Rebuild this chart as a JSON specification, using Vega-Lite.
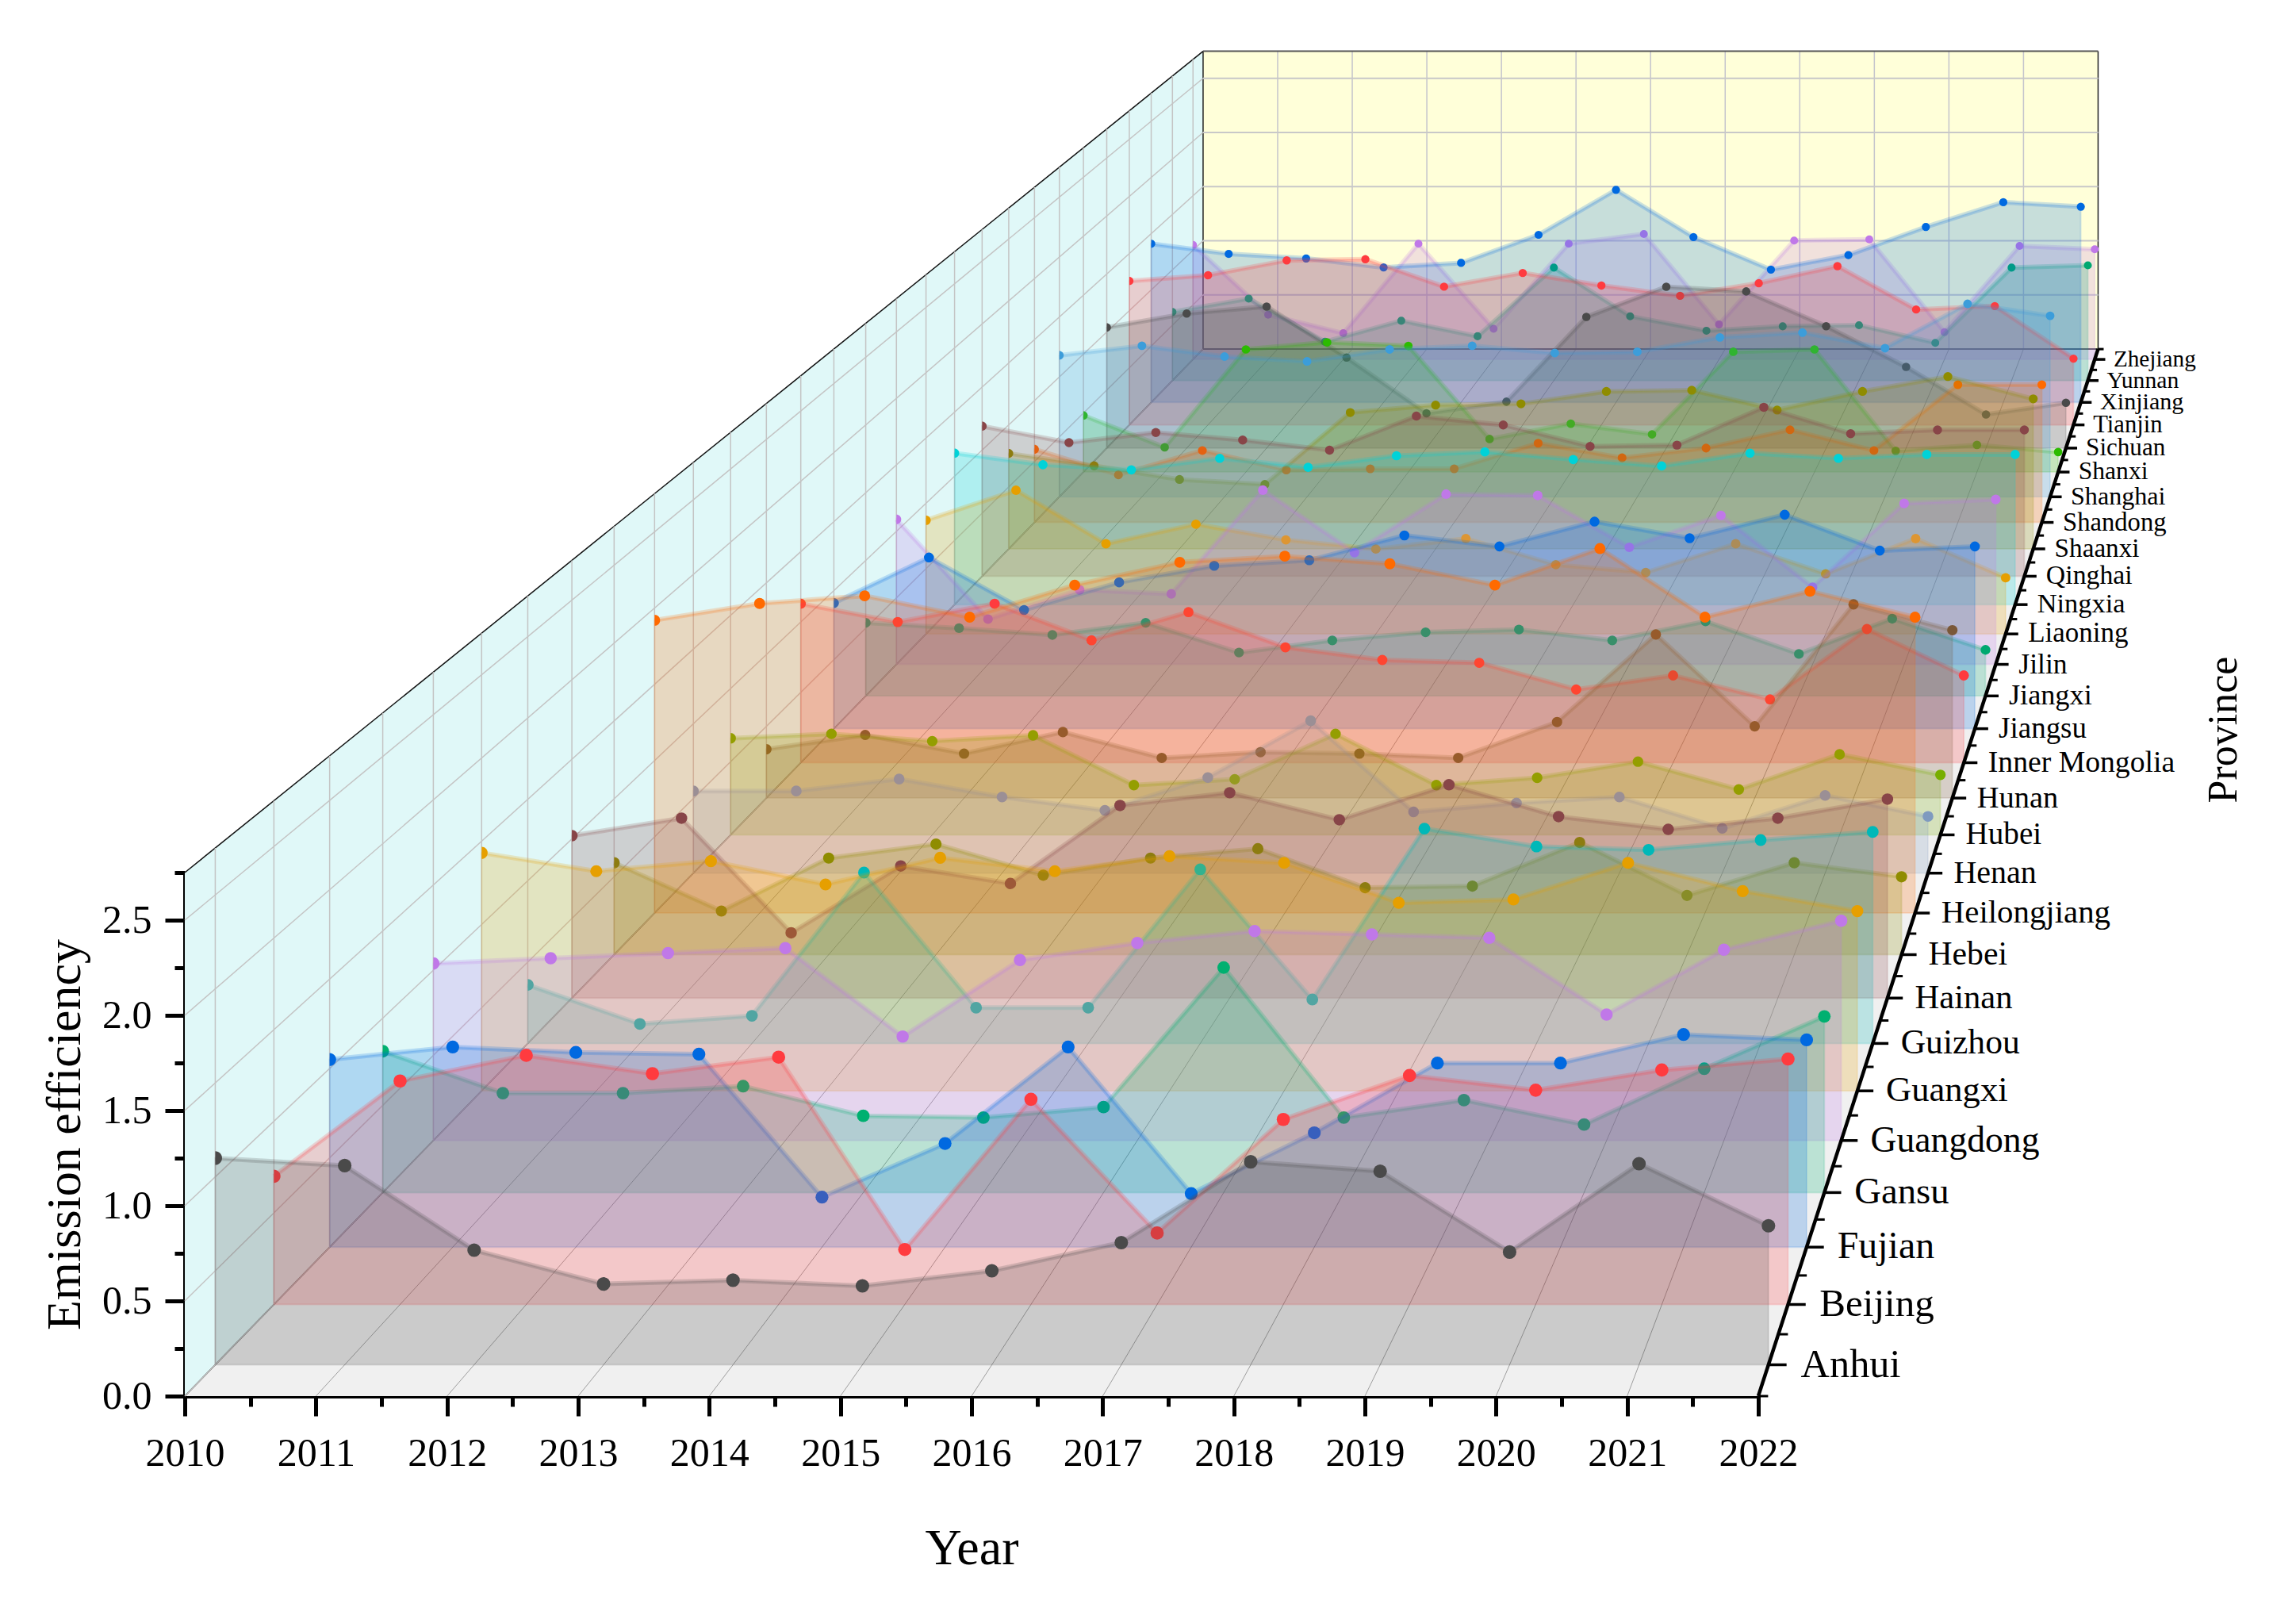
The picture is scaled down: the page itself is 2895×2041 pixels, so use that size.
{"$schema":"https://vega.github.io/schema/vega-lite/v6.json","width":1984,"height":660,"autosize":{"type":"none"},"padding":{"left":233,"top":1100,"right":678,"bottom":281},"background":"#ffffff","config":{"view":{"stroke":null},"text":{"font":"Liberation Serif"},"axis":{"labelFont":"Liberation Serif","titleFont":"Liberation Serif","labelFontSize":50,"labelColor":"#000","titleColor":"#000","titleFontWeight":"normal","domainColor":"#000","domainWidth":5,"tickColor":"#000","tickWidth":5,"grid":false,"labelOverlap":false,"labelFlush":false,"labelBound":false,"zindex":1}},
"datasets":{
"depthEnds":[{"d":0},{"d":1}],
"yearTicks":[{"year":2010},{"year":2011},{"year":2012},{"year":2013},{"year":2014},{"year":2015},{"year":2016},{"year":2017},{"year":2018},{"year":2019},{"year":2020},{"year":2021},{"year":2022}],
"valueTicks":[{"value":0},{"value":0.5},{"value":1},{"value":1.5},{"value":2},{"value":2.5},{"value":2.75}],
"provinces":[{"province":"Anhui","k":0},{"province":"Beijing","k":1},{"province":"Fujian","k":2},{"province":"Gansu","k":3},{"province":"Guangdong","k":4},{"province":"Guangxi","k":5},{"province":"Guizhou","k":6},{"province":"Hainan","k":7},{"province":"Hebei","k":8},{"province":"Heilongjiang","k":9},{"province":"Henan","k":10},{"province":"Hubei","k":11},{"province":"Hunan","k":12},{"province":"Inner Mongolia","k":13},{"province":"Jiangsu","k":14},{"province":"Jiangxi","k":15},{"province":"Jilin","k":16},{"province":"Liaoning","k":17},{"province":"Ningxia","k":18},{"province":"Qinghai","k":19},{"province":"Shaanxi","k":20},{"province":"Shandong","k":21},{"province":"Shanghai","k":22},{"province":"Shanxi","k":23},{"province":"Sichuan","k":24},{"province":"Tianjin","k":25},{"province":"Xinjiang","k":26},{"province":"Yunnan","k":27},{"province":"Zhejiang","k":28}],
"rows":[
{"province":"Anhui","k":0,"year":2010,"value":1.10},{"province":"Anhui","k":0,"year":2011,"value":1.06},{"province":"Anhui","k":0,"year":2012,"value":0.61},{"province":"Anhui","k":0,"year":2013,"value":0.43},{"province":"Anhui","k":0,"year":2014,"value":0.45},{"province":"Anhui","k":0,"year":2015,"value":0.42},{"province":"Anhui","k":0,"year":2016,"value":0.50},{"province":"Anhui","k":0,"year":2017,"value":0.65},{"province":"Anhui","k":0,"year":2018,"value":1.08},{"province":"Anhui","k":0,"year":2019,"value":1.03},{"province":"Anhui","k":0,"year":2020,"value":0.60},{"province":"Anhui","k":0,"year":2021,"value":1.07},{"province":"Anhui","k":0,"year":2022,"value":0.74},
{"province":"Beijing","k":1,"year":2010,"value":0.70},{"province":"Beijing","k":1,"year":2011,"value":1.22},{"province":"Beijing","k":1,"year":2012,"value":1.36},{"province":"Beijing","k":1,"year":2013,"value":1.26},{"province":"Beijing","k":1,"year":2014,"value":1.35},{"province":"Beijing","k":1,"year":2015,"value":0.30},{"province":"Beijing","k":1,"year":2016,"value":1.12},{"province":"Beijing","k":1,"year":2017,"value":0.39},{"province":"Beijing","k":1,"year":2018,"value":1.01},{"province":"Beijing","k":1,"year":2019,"value":1.25},{"province":"Beijing","k":1,"year":2020,"value":1.17},{"province":"Beijing","k":1,"year":2021,"value":1.28},{"province":"Beijing","k":1,"year":2022,"value":1.34},
{"province":"Fujian","k":2,"year":2010,"value":1.05},{"province":"Fujian","k":2,"year":2011,"value":1.12},{"province":"Fujian","k":2,"year":2012,"value":1.09},{"province":"Fujian","k":2,"year":2013,"value":1.08},{"province":"Fujian","k":2,"year":2014,"value":0.28},{"province":"Fujian","k":2,"year":2015,"value":0.58},{"province":"Fujian","k":2,"year":2016,"value":1.12},{"province":"Fujian","k":2,"year":2017,"value":0.30},{"province":"Fujian","k":2,"year":2018,"value":0.64},{"province":"Fujian","k":2,"year":2019,"value":1.03},{"province":"Fujian","k":2,"year":2020,"value":1.03},{"province":"Fujian","k":2,"year":2021,"value":1.19},{"province":"Fujian","k":2,"year":2022,"value":1.16},
{"province":"Gansu","k":3,"year":2010,"value":0.81},{"province":"Gansu","k":3,"year":2011,"value":0.57},{"province":"Gansu","k":3,"year":2012,"value":0.57},{"province":"Gansu","k":3,"year":2013,"value":0.61},{"province":"Gansu","k":3,"year":2014,"value":0.44},{"province":"Gansu","k":3,"year":2015,"value":0.43},{"province":"Gansu","k":3,"year":2016,"value":0.49},{"province":"Gansu","k":3,"year":2017,"value":1.29},{"province":"Gansu","k":3,"year":2018,"value":0.43},{"province":"Gansu","k":3,"year":2019,"value":0.53},{"province":"Gansu","k":3,"year":2020,"value":0.39},{"province":"Gansu","k":3,"year":2021,"value":0.71},{"province":"Gansu","k":3,"year":2022,"value":1.01},
{"province":"Guangdong","k":4,"year":2010,"value":1.04},{"province":"Guangdong","k":4,"year":2011,"value":1.07},{"province":"Guangdong","k":4,"year":2012,"value":1.10},{"province":"Guangdong","k":4,"year":2013,"value":1.13},{"province":"Guangdong","k":4,"year":2014,"value":0.61},{"province":"Guangdong","k":4,"year":2015,"value":1.06},{"province":"Guangdong","k":4,"year":2016,"value":1.16},{"province":"Guangdong","k":4,"year":2017,"value":1.23},{"province":"Guangdong","k":4,"year":2018,"value":1.21},{"province":"Guangdong","k":4,"year":2019,"value":1.19},{"province":"Guangdong","k":4,"year":2020,"value":0.74},{"province":"Guangdong","k":4,"year":2021,"value":1.12},{"province":"Guangdong","k":4,"year":2022,"value":1.29},
{"province":"Guangxi","k":5,"year":2010,"value":1.43},{"province":"Guangxi","k":5,"year":2011,"value":1.32},{"province":"Guangxi","k":5,"year":2012,"value":1.38},{"province":"Guangxi","k":5,"year":2013,"value":1.24},{"province":"Guangxi","k":5,"year":2014,"value":1.40},{"province":"Guangxi","k":5,"year":2015,"value":1.32},{"province":"Guangxi","k":5,"year":2016,"value":1.41},{"province":"Guangxi","k":5,"year":2017,"value":1.37},{"province":"Guangxi","k":5,"year":2018,"value":1.13},{"province":"Guangxi","k":5,"year":2019,"value":1.15},{"province":"Guangxi","k":5,"year":2020,"value":1.37},{"province":"Guangxi","k":5,"year":2021,"value":1.20},{"province":"Guangxi","k":5,"year":2022,"value":1.08},
{"province":"Guizhou","k":6,"year":2010,"value":0.36},{"province":"Guizhou","k":6,"year":2011,"value":0.12},{"province":"Guizhou","k":6,"year":2012,"value":0.17},{"province":"Guizhou","k":6,"year":2013,"value":1.05},{"province":"Guizhou","k":6,"year":2014,"value":0.22},{"province":"Guizhou","k":6,"year":2015,"value":0.22},{"province":"Guizhou","k":6,"year":2016,"value":1.07},{"province":"Guizhou","k":6,"year":2017,"value":0.27},{"province":"Guizhou","k":6,"year":2018,"value":1.32},{"province":"Guizhou","k":6,"year":2019,"value":1.21},{"province":"Guizhou","k":6,"year":2020,"value":1.19},{"province":"Guizhou","k":6,"year":2021,"value":1.25},{"province":"Guizhou","k":6,"year":2022,"value":1.30},
{"province":"Hainan","k":7,"year":2010,"value":1.02},{"province":"Hainan","k":7,"year":2011,"value":1.13},{"province":"Hainan","k":7,"year":2012,"value":0.41},{"province":"Hainan","k":7,"year":2013,"value":0.83},{"province":"Hainan","k":7,"year":2014,"value":0.72},{"province":"Hainan","k":7,"year":2015,"value":1.21},{"province":"Hainan","k":7,"year":2016,"value":1.29},{"province":"Hainan","k":7,"year":2017,"value":1.12},{"province":"Hainan","k":7,"year":2018,"value":1.34},{"province":"Hainan","k":7,"year":2019,"value":1.14},{"province":"Hainan","k":7,"year":2020,"value":1.06},{"province":"Hainan","k":7,"year":2021,"value":1.13},{"province":"Hainan","k":7,"year":2022,"value":1.25},
{"province":"Hebei","k":8,"year":2010,"value":0.59},{"province":"Hebei","k":8,"year":2011,"value":0.28},{"province":"Hebei","k":8,"year":2012,"value":0.62},{"province":"Hebei","k":8,"year":2013,"value":0.71},{"province":"Hebei","k":8,"year":2014,"value":0.51},{"province":"Hebei","k":8,"year":2015,"value":0.62},{"province":"Hebei","k":8,"year":2016,"value":0.68},{"province":"Hebei","k":8,"year":2017,"value":0.43},{"province":"Hebei","k":8,"year":2018,"value":0.44},{"province":"Hebei","k":8,"year":2019,"value":0.72},{"province":"Hebei","k":8,"year":2020,"value":0.38},{"province":"Hebei","k":8,"year":2021,"value":0.59},{"province":"Hebei","k":8,"year":2022,"value":0.50},
{"province":"Heilongjiang","k":9,"year":2010,"value":1.92},{"province":"Heilongjiang","k":9,"year":2011,"value":2.03},{"province":"Heilongjiang","k":9,"year":2012,"value":2.08},{"province":"Heilongjiang","k":9,"year":2013,"value":1.94},{"province":"Heilongjiang","k":9,"year":2014,"value":2.15},{"province":"Heilongjiang","k":9,"year":2015,"value":2.30},{"province":"Heilongjiang","k":9,"year":2016,"value":2.34},{"province":"Heilongjiang","k":9,"year":2017,"value":2.29},{"province":"Heilongjiang","k":9,"year":2018,"value":2.15},{"province":"Heilongjiang","k":9,"year":2019,"value":2.39},{"province":"Heilongjiang","k":9,"year":2020,"value":1.94},{"province":"Heilongjiang","k":9,"year":2021,"value":2.11},{"province":"Heilongjiang","k":9,"year":2022,"value":1.94},
{"province":"Henan","k":10,"year":2010,"value":0.55},{"province":"Henan","k":10,"year":2011,"value":0.55},{"province":"Henan","k":10,"year":2012,"value":0.63},{"province":"Henan","k":10,"year":2013,"value":0.51},{"province":"Henan","k":10,"year":2014,"value":0.42},{"province":"Henan","k":10,"year":2015,"value":0.64},{"province":"Henan","k":10,"year":2016,"value":1.02},{"province":"Henan","k":10,"year":2017,"value":0.41},{"province":"Henan","k":10,"year":2018,"value":0.47},{"province":"Henan","k":10,"year":2019,"value":0.51},{"province":"Henan","k":10,"year":2020,"value":0.30},{"province":"Henan","k":10,"year":2021,"value":0.52},{"province":"Henan","k":10,"year":2022,"value":0.38},
{"province":"Hubei","k":11,"year":2010,"value":0.66},{"province":"Hubei","k":11,"year":2011,"value":0.69},{"province":"Hubei","k":11,"year":2012,"value":0.64},{"province":"Hubei","k":11,"year":2013,"value":0.68},{"province":"Hubei","k":11,"year":2014,"value":0.34},{"province":"Hubei","k":11,"year":2015,"value":0.38},{"province":"Hubei","k":11,"year":2016,"value":0.69},{"province":"Hubei","k":11,"year":2017,"value":0.34},{"province":"Hubei","k":11,"year":2018,"value":0.39},{"province":"Hubei","k":11,"year":2019,"value":0.50},{"province":"Hubei","k":11,"year":2020,"value":0.31},{"province":"Hubei","k":11,"year":2021,"value":0.55},{"province":"Hubei","k":11,"year":2022,"value":0.41},
{"province":"Hunan","k":12,"year":2010,"value":0.34},{"province":"Hunan","k":12,"year":2011,"value":0.44},{"province":"Hunan","k":12,"year":2012,"value":0.31},{"province":"Hunan","k":12,"year":2013,"value":0.46},{"province":"Hunan","k":12,"year":2014,"value":0.28},{"province":"Hunan","k":12,"year":2015,"value":0.32},{"province":"Hunan","k":12,"year":2016,"value":0.31},{"province":"Hunan","k":12,"year":2017,"value":0.28},{"province":"Hunan","k":12,"year":2018,"value":0.53},{"province":"Hunan","k":12,"year":2019,"value":1.14},{"province":"Hunan","k":12,"year":2020,"value":0.50},{"province":"Hunan","k":12,"year":2021,"value":1.35},{"province":"Hunan","k":12,"year":2022,"value":1.17},
{"province":"Inner Mongolia","k":13,"year":2010,"value":1.13},{"province":"Inner Mongolia","k":13,"year":2011,"value":1.00},{"province":"Inner Mongolia","k":13,"year":2012,"value":1.13},{"province":"Inner Mongolia","k":13,"year":2013,"value":0.87},{"province":"Inner Mongolia","k":13,"year":2014,"value":1.07},{"province":"Inner Mongolia","k":13,"year":2015,"value":0.82},{"province":"Inner Mongolia","k":13,"year":2016,"value":0.73},{"province":"Inner Mongolia","k":13,"year":2017,"value":0.71},{"province":"Inner Mongolia","k":13,"year":2018,"value":0.52},{"province":"Inner Mongolia","k":13,"year":2019,"value":0.62},{"province":"Inner Mongolia","k":13,"year":2020,"value":0.45},{"province":"Inner Mongolia","k":13,"year":2021,"value":0.95},{"province":"Inner Mongolia","k":13,"year":2022,"value":0.62},
{"province":"Jiangsu","k":14,"year":2010,"value":0.91},{"province":"Jiangsu","k":14,"year":2011,"value":1.24},{"province":"Jiangsu","k":14,"year":2012,"value":0.86},{"province":"Jiangsu","k":14,"year":2013,"value":1.06},{"province":"Jiangsu","k":14,"year":2014,"value":1.18},{"province":"Jiangsu","k":14,"year":2015,"value":1.22},{"province":"Jiangsu","k":14,"year":2016,"value":1.40},{"province":"Jiangsu","k":14,"year":2017,"value":1.32},{"province":"Jiangsu","k":14,"year":2018,"value":1.50},{"province":"Jiangsu","k":14,"year":2019,"value":1.38},{"province":"Jiangsu","k":14,"year":2020,"value":1.55},{"province":"Jiangsu","k":14,"year":2021,"value":1.29},{"province":"Jiangsu","k":14,"year":2022,"value":1.32},
{"province":"Jiangxi","k":15,"year":2010,"value":0.54},{"province":"Jiangxi","k":15,"year":2011,"value":0.50},{"province":"Jiangxi","k":15,"year":2012,"value":0.45},{"province":"Jiangxi","k":15,"year":2013,"value":0.54},{"province":"Jiangxi","k":15,"year":2014,"value":0.32},{"province":"Jiangxi","k":15,"year":2015,"value":0.41},{"province":"Jiangxi","k":15,"year":2016,"value":0.47},{"province":"Jiangxi","k":15,"year":2017,"value":0.49},{"province":"Jiangxi","k":15,"year":2018,"value":0.41},{"province":"Jiangxi","k":15,"year":2019,"value":0.55},{"province":"Jiangxi","k":15,"year":2020,"value":0.31},{"province":"Jiangxi","k":15,"year":2021,"value":0.57},{"province":"Jiangxi","k":15,"year":2022,"value":0.34},
{"province":"Jilin","k":16,"year":2010,"value":1.09},{"province":"Jilin","k":16,"year":2011,"value":0.34},{"province":"Jilin","k":16,"year":2012,"value":0.56},{"province":"Jilin","k":16,"year":2013,"value":0.53},{"province":"Jilin","k":16,"year":2014,"value":1.31},{"province":"Jilin","k":16,"year":2015,"value":0.84},{"province":"Jilin","k":16,"year":2016,"value":1.28},{"province":"Jilin","k":16,"year":2017,"value":1.27},{"province":"Jilin","k":16,"year":2018,"value":0.88},{"province":"Jilin","k":16,"year":2019,"value":1.12},{"province":"Jilin","k":16,"year":2020,"value":0.58},{"province":"Jilin","k":16,"year":2021,"value":1.21},{"province":"Jilin","k":16,"year":2022,"value":1.24},
{"province":"Liaoning","k":17,"year":2010,"value":0.87},{"province":"Liaoning","k":17,"year":2011,"value":1.10},{"province":"Liaoning","k":17,"year":2012,"value":0.69},{"province":"Liaoning","k":17,"year":2013,"value":0.84},{"province":"Liaoning","k":17,"year":2014,"value":0.72},{"province":"Liaoning","k":17,"year":2015,"value":0.65},{"province":"Liaoning","k":17,"year":2016,"value":0.73},{"province":"Liaoning","k":17,"year":2017,"value":0.53},{"province":"Liaoning","k":17,"year":2018,"value":0.47},{"province":"Liaoning","k":17,"year":2019,"value":0.69},{"province":"Liaoning","k":17,"year":2020,"value":0.46},{"province":"Liaoning","k":17,"year":2021,"value":0.73},{"province":"Liaoning","k":17,"year":2022,"value":0.43},
{"province":"Ningxia","k":18,"year":2010,"value":1.18},{"province":"Ningxia","k":18,"year":2011,"value":1.09},{"province":"Ningxia","k":18,"year":2012,"value":1.05},{"province":"Ningxia","k":18,"year":2013,"value":1.14},{"province":"Ningxia","k":18,"year":2014,"value":1.07},{"province":"Ningxia","k":18,"year":2015,"value":1.16},{"province":"Ningxia","k":18,"year":2016,"value":1.19},{"province":"Ningxia","k":18,"year":2017,"value":1.13},{"province":"Ningxia","k":18,"year":2018,"value":1.08},{"province":"Ningxia","k":18,"year":2019,"value":1.18},{"province":"Ningxia","k":18,"year":2020,"value":1.14},{"province":"Ningxia","k":18,"year":2021,"value":1.17},{"province":"Ningxia","k":18,"year":2022,"value":1.17},
{"province":"Qinghai","k":19,"year":2010,"value":1.19},{"province":"Qinghai","k":19,"year":2011,"value":1.06},{"province":"Qinghai","k":19,"year":2012,"value":1.14},{"province":"Qinghai","k":19,"year":2013,"value":1.08},{"province":"Qinghai","k":19,"year":2014,"value":1.00},{"province":"Qinghai","k":19,"year":2015,"value":1.27},{"province":"Qinghai","k":19,"year":2016,"value":1.20},{"province":"Qinghai","k":19,"year":2017,"value":1.03},{"province":"Qinghai","k":19,"year":2018,"value":1.04},{"province":"Qinghai","k":19,"year":2019,"value":1.34},{"province":"Qinghai","k":19,"year":2020,"value":1.13},{"province":"Qinghai","k":19,"year":2021,"value":1.16},{"province":"Qinghai","k":19,"year":2022,"value":1.16},
{"province":"Shaanxi","k":20,"year":2010,"value":0.77},{"province":"Shaanxi","k":20,"year":2011,"value":0.67},{"province":"Shaanxi","k":20,"year":2012,"value":0.56},{"province":"Shaanxi","k":20,"year":2013,"value":0.52},{"province":"Shaanxi","k":20,"year":2014,"value":1.10},{"province":"Shaanxi","k":20,"year":2015,"value":1.16},{"province":"Shaanxi","k":20,"year":2016,"value":1.17},{"province":"Shaanxi","k":20,"year":2017,"value":1.27},{"province":"Shaanxi","k":20,"year":2018,"value":1.28},{"province":"Shaanxi","k":20,"year":2019,"value":1.12},{"province":"Shaanxi","k":20,"year":2020,"value":1.27},{"province":"Shaanxi","k":20,"year":2021,"value":1.39},{"province":"Shaanxi","k":20,"year":2022,"value":1.21},
{"province":"Shandong","k":21,"year":2010,"value":0.60},{"province":"Shandong","k":21,"year":2011,"value":0.39},{"province":"Shandong","k":21,"year":2012,"value":0.59},{"province":"Shandong","k":21,"year":2013,"value":0.43},{"province":"Shandong","k":21,"year":2014,"value":0.44},{"province":"Shandong","k":21,"year":2015,"value":0.44},{"province":"Shandong","k":21,"year":2016,"value":0.65},{"province":"Shandong","k":21,"year":2017,"value":0.53},{"province":"Shandong","k":21,"year":2018,"value":0.61},{"province":"Shandong","k":21,"year":2019,"value":0.76},{"province":"Shandong","k":21,"year":2020,"value":0.59},{"province":"Shandong","k":21,"year":2021,"value":1.13},{"province":"Shandong","k":21,"year":2022,"value":1.13},
{"province":"Shanghai","k":22,"year":2010,"value":1.18},{"province":"Shanghai","k":22,"year":2011,"value":1.26},{"province":"Shanghai","k":22,"year":2012,"value":1.17},{"province":"Shanghai","k":22,"year":2013,"value":1.13},{"province":"Shanghai","k":22,"year":2014,"value":1.23},{"province":"Shanghai","k":22,"year":2015,"value":1.26},{"province":"Shanghai","k":22,"year":2016,"value":1.20},{"province":"Shanghai","k":22,"year":2017,"value":1.21},{"province":"Shanghai","k":22,"year":2018,"value":1.33},{"province":"Shanghai","k":22,"year":2019,"value":1.37},{"province":"Shanghai","k":22,"year":2020,"value":1.24},{"province":"Shanghai","k":22,"year":2021,"value":1.61},{"province":"Shanghai","k":22,"year":2022,"value":1.51},
{"province":"Shanxi","k":23,"year":2010,"value":0.48},{"province":"Shanxi","k":23,"year":2011,"value":0.21},{"province":"Shanxi","k":23,"year":2012,"value":1.04},{"province":"Shanxi","k":23,"year":2013,"value":1.10},{"province":"Shanxi","k":23,"year":2014,"value":1.07},{"province":"Shanxi","k":23,"year":2015,"value":0.28},{"province":"Shanxi","k":23,"year":2016,"value":0.41},{"province":"Shanxi","k":23,"year":2017,"value":0.32},{"province":"Shanxi","k":23,"year":2018,"value":1.02},{"province":"Shanxi","k":23,"year":2019,"value":1.04},{"province":"Shanxi","k":23,"year":2020,"value":0.18},{"province":"Shanxi","k":23,"year":2021,"value":0.23},{"province":"Shanxi","k":23,"year":2022,"value":0.17},
{"province":"Sichuan","k":24,"year":2010,"value":1.04},{"province":"Sichuan","k":24,"year":2011,"value":1.16},{"province":"Sichuan","k":24,"year":2012,"value":1.22},{"province":"Sichuan","k":24,"year":2013,"value":0.78},{"province":"Sichuan","k":24,"year":2014,"value":0.30},{"province":"Sichuan","k":24,"year":2015,"value":0.40},{"province":"Sichuan","k":24,"year":2016,"value":1.13},{"province":"Sichuan","k":24,"year":2017,"value":1.39},{"province":"Sichuan","k":24,"year":2018,"value":1.35},{"province":"Sichuan","k":24,"year":2019,"value":1.05},{"province":"Sichuan","k":24,"year":2020,"value":0.70},{"province":"Sichuan","k":24,"year":2021,"value":0.29},{"province":"Sichuan","k":24,"year":2022,"value":0.39},
{"province":"Tianjin","k":25,"year":2010,"value":1.26},{"province":"Tianjin","k":25,"year":2011,"value":1.31},{"province":"Tianjin","k":25,"year":2012,"value":1.44},{"province":"Tianjin","k":25,"year":2013,"value":1.45},{"province":"Tianjin","k":25,"year":2014,"value":1.21},{"province":"Tianjin","k":25,"year":2015,"value":1.33},{"province":"Tianjin","k":25,"year":2016,"value":1.22},{"province":"Tianjin","k":25,"year":2017,"value":1.13},{"province":"Tianjin","k":25,"year":2018,"value":1.24},{"province":"Tianjin","k":25,"year":2019,"value":1.39},{"province":"Tianjin","k":25,"year":2020,"value":1.01},{"province":"Tianjin","k":25,"year":2021,"value":1.04},{"province":"Tianjin","k":25,"year":2022,"value":0.58},
{"province":"Xinjiang","k":26,"year":2010,"value":1.41},{"province":"Xinjiang","k":26,"year":2011,"value":1.32},{"province":"Xinjiang","k":26,"year":2012,"value":1.28},{"province":"Xinjiang","k":26,"year":2013,"value":1.20},{"province":"Xinjiang","k":26,"year":2014,"value":1.24},{"province":"Xinjiang","k":26,"year":2015,"value":1.49},{"province":"Xinjiang","k":26,"year":2016,"value":1.89},{"province":"Xinjiang","k":26,"year":2017,"value":1.47},{"province":"Xinjiang","k":26,"year":2018,"value":1.18},{"province":"Xinjiang","k":26,"year":2019,"value":1.31},{"province":"Xinjiang","k":26,"year":2020,"value":1.56},{"province":"Xinjiang","k":26,"year":2021,"value":1.78},{"province":"Xinjiang","k":26,"year":2022,"value":1.74},
{"province":"Yunnan","k":27,"year":2010,"value":0.62},{"province":"Yunnan","k":27,"year":2011,"value":0.74},{"province":"Yunnan","k":27,"year":2012,"value":0.35},{"province":"Yunnan","k":27,"year":2013,"value":0.54},{"province":"Yunnan","k":27,"year":2014,"value":0.40},{"province":"Yunnan","k":27,"year":2015,"value":1.02},{"province":"Yunnan","k":27,"year":2016,"value":0.58},{"province":"Yunnan","k":27,"year":2017,"value":0.45},{"province":"Yunnan","k":27,"year":2018,"value":0.49},{"province":"Yunnan","k":27,"year":2019,"value":0.50},{"province":"Yunnan","k":27,"year":2020,"value":0.34},{"province":"Yunnan","k":27,"year":2021,"value":1.02},{"province":"Yunnan","k":27,"year":2022,"value":1.04},
{"province":"Zhejiang","k":28,"year":2010,"value":1.05},{"province":"Zhejiang","k":28,"year":2011,"value":0.41},{"province":"Zhejiang","k":28,"year":2012,"value":0.24},{"province":"Zhejiang","k":28,"year":2013,"value":1.06},{"province":"Zhejiang","k":28,"year":2014,"value":0.28},{"province":"Zhejiang","k":28,"year":2015,"value":1.06},{"province":"Zhejiang","k":28,"year":2016,"value":1.15},{"province":"Zhejiang","k":28,"year":2017,"value":0.32},{"province":"Zhejiang","k":28,"year":2018,"value":1.09},{"province":"Zhejiang","k":28,"year":2019,"value":1.10},{"province":"Zhejiang","k":28,"year":2020,"value":0.25},{"province":"Zhejiang","k":28,"year":2021,"value":1.04},{"province":"Zhejiang","k":28,"year":2022,"value":1.01}
]},
"layer":[
{"data":{"name":"depthEnds"},"transform":[{"calculate":"1/(1+0.758*datum.d)","as":"s"},{"calculate":"2028.01+(2010-2028.01)*datum.s","as":"xl"},{"calculate":"2028.01+(2022-2028.01)*datum.s","as":"xr"},{"calculate":"12.755*(1-datum.s)","as":"y0"},{"calculate":"12.755+(2.75-12.755)*datum.s","as":"yt"}],
"layer":[
{"mark":{"type":"area","orient":"horizontal","fill":"#f0f0f0"},"encoding":{"x":{"field":"xl","type":"quantitative","scale":{"domain":[2010,2022],"nice":false,"zero":false},"axis":{"title":"Year","titleFontSize":64,"titlePadding":63,"values":[2010,2010.5,2011,2011.5,2012,2012.5,2013,2013.5,2014,2014.5,2015,2015.5,2016,2016.5,2017,2017.5,2018,2018.5,2019,2019.5,2020,2020.5,2021,2021.5,2022],"labelExpr":"datum.value%1===0?format(datum.value,'d'):''","labelPadding":22,"tickSize":{"condition":{"test":"datum.value%1===0","value":25},"value":13}}},"x2":{"field":"xr"},"y":{"field":"y0","type":"quantitative","scale":{"domain":[0,2.75],"nice":false,"zero":false},"axis":{"title":"Emission efficiency","titleFontSize":62,"titlePadding":15,"values":[0,0.25,0.5,0.75,1,1.25,1.5,1.75,2,2.25,2.5,2.75],"labelExpr":"datum.value%0.5===0?format(datum.value,'.1f'):''","labelPadding":17,"tickSize":{"condition":{"test":"datum.value%0.5===0","value":25},"value":13}}}}},
{"mark":{"type":"area","orient":"vertical","fill":"#e0f8f8"},"encoding":{"x":{"field":"xl","type":"quantitative"},"y":{"field":"y0","type":"quantitative"},"y2":{"field":"yt"}}},
{"transform":[{"filter":"datum.d===1"}],"mark":{"type":"rect","fill":"#ffffd9"},"encoding":{"x":{"field":"xl","type":"quantitative"},"x2":{"field":"xr"},"y":{"field":"y0","type":"quantitative"},"y2":{"field":"yt"}}}
]},
{"data":{"name":"yearTicks"},"transform":[{"calculate":"2028.01+(datum.year-2028.01)*0.5688","as":"xb"},{"calculate":"12.755*(1-0.5688)","as":"y0b"},{"calculate":"12.755+(2.75-12.755)*0.5688","as":"ytb"},{"calculate":"0","as":"y0f"}],
"layer":[
{"mark":{"type":"rule","color":"#8a8a8a","strokeWidth":1,"opacity":0.8},"encoding":{"x":{"field":"year","type":"quantitative"},"y":{"field":"y0f","type":"quantitative"},"x2":{"field":"xb"},"y2":{"field":"y0b"}}},
{"mark":{"type":"rule","strokeWidth":1.5},"encoding":{"x":{"field":"xb","type":"quantitative"},"y":{"field":"y0b","type":"quantitative"},"y2":{"field":"ytb"},"color":{"condition":{"test":"datum.year===2010||datum.year===2022","value":"#222222"},"value":"#c4c4cc"}}},
{"transform":[{"filter":"datum.year===2010"}],"mark":{"type":"rule","color":"#111111","strokeWidth":1.5},"encoding":{"x":{"field":"year","type":"quantitative"},"y":{"field":"y0f","type":"quantitative"},"x2":{"field":"xb"},"y2":{"field":"y0b"}}}
]},
{"data":{"name":"valueTicks"},"transform":[{"calculate":"2028.01+(2010-2028.01)*0.5688","as":"xbl"},{"calculate":"2028.01+(2022-2028.01)*0.5688","as":"xbr"},{"calculate":"12.755+(datum.value-12.755)*0.5688","as":"yb"},{"calculate":"2010","as":"xf"}],
"layer":[
{"mark":{"type":"rule","strokeWidth":1.5},"encoding":{"x":{"field":"xf","type":"quantitative"},"y":{"field":"value","type":"quantitative"},"x2":{"field":"xbl"},"y2":{"field":"yb"},"color":{"condition":{"test":"datum.value===2.75","value":"#111111"},"value":"#c4c4c4"}}},
{"mark":{"type":"rule","strokeWidth":2},"encoding":{"x":{"field":"xbl","type":"quantitative"},"y":{"field":"yb","type":"quantitative"},"x2":{"field":"xbr"},"y2":{"field":"yb"},"color":{"condition":{"test":"datum.value===0||datum.value===2.75","value":"#555555"},"value":"#c8c8c8"}}}
]},
{"data":{"name":"provinces"},"transform":[{"calculate":"1/(1+0.02614*(datum.k+0.5))","as":"s"},{"calculate":"2028.01+(2010-2028.01)*datum.s","as":"xl"},{"calculate":"12.755*(1-datum.s)","as":"y0"},{"calculate":"12.755+(2.75-12.755)*datum.s","as":"yt"}],"mark":{"type":"rule","color":"#c4c4c4","strokeWidth":1.5},"encoding":{"x":{"field":"xl","type":"quantitative"},"y":{"field":"y0","type":"quantitative"},"y2":{"field":"yt"}}},
{"data":{"name":"rows"},"transform":[{"calculate":"1/(1+0.02614*(datum.k+0.5))","as":"s"},{"calculate":"2028.01+(datum.year-2028.01)*datum.s","as":"px"},{"calculate":"12.755+(datum.value-12.755)*datum.s","as":"py"},{"calculate":"12.755*(1-datum.s)","as":"py0"},{"calculate":"300*datum.s*datum.s","as":"ms"}],
"encoding":{"x":{"field":"px","type":"quantitative"},"y":{"field":"py","type":"quantitative"},
"color":{"field":"province","type":"nominal","legend":null,"scale":{"domain":["Anhui","Beijing","Fujian","Gansu","Guangdong","Guangxi","Guizhou","Hainan","Hebei","Heilongjiang","Henan","Hubei","Hunan","Inner Mongolia","Jiangsu","Jiangxi","Jilin","Liaoning","Ningxia","Qinghai","Shaanxi","Shandong","Shanghai","Shanxi","Sichuan","Tianjin","Xinjiang","Yunnan","Zhejiang"],"range":["#4a4a4a","#ff3b3f","#0069e0","#00b070","#c078e8","#e69f00","#00b8b8","#884548","#8f8c00","#ff6a00","#7f9abf","#77ae00","#7a5838","#ff3b3f","#0069e0","#00a870","#c078e8","#e69f00","#00d2d8","#884548","#8f8c00","#ff6a00","#3c9dda","#2cbb00","#4a4a4a","#ff3b3f","#0069e0","#00a870","#c078e8"]}},
"stroke":{"field":"province","type":"nominal","legend":null,"scale":{"domain":["Anhui","Beijing","Fujian","Gansu","Guangdong","Guangxi","Guizhou","Hainan","Hebei","Heilongjiang","Henan","Hubei","Hunan","Inner Mongolia","Jiangsu","Jiangxi","Jilin","Liaoning","Ningxia","Qinghai","Shaanxi","Shandong","Shanghai","Shanxi","Sichuan","Tianjin","Xinjiang","Yunnan","Zhejiang"],"range":["#4a4a4a","#ff3b3f","#0069e0","#00b070","#c078e8","#e69f00","#00b8b8","#884548","#8f8c00","#ff6a00","#7f9abf","#77ae00","#7a5838","#ff3b3f","#0069e0","#00a870","#c078e8","#e69f00","#00d2d8","#884548","#8f8c00","#ff6a00","#3c9dda","#2cbb00","#4a4a4a","#ff3b3f","#0069e0","#00a870","#c078e8"]}}},
"layer":[
{"transform":[{"filter":"datum.k===28"}],"layer":[{"mark":{"type":"area","fillOpacity":0.22,"strokeOpacity":0.14,"strokeWidth":2},"encoding":{"y2":{"field":"py0"}}},{"mark":{"type":"line","strokeWidth":6,"opacity":0.2}},{"mark":{"type":"point","filled":true,"opacity":1,"strokeWidth":0},"encoding":{"size":{"field":"ms","type":"quantitative","scale":null},"shape":{"condition":{"test":"datum.year===2010","value":"M0,-1A1,1 0 0 1 0,1Z"},"value":"circle"}}}]},
{"transform":[{"filter":"datum.k===27"}],"layer":[{"mark":{"type":"area","fillOpacity":0.22,"strokeOpacity":0.14,"strokeWidth":2},"encoding":{"y2":{"field":"py0"}}},{"mark":{"type":"line","strokeWidth":6,"opacity":0.2}},{"mark":{"type":"point","filled":true,"opacity":1,"strokeWidth":0},"encoding":{"size":{"field":"ms","type":"quantitative","scale":null},"shape":{"condition":{"test":"datum.year===2010","value":"M0,-1A1,1 0 0 1 0,1Z"},"value":"circle"}}}]},
{"transform":[{"filter":"datum.k===26"}],"layer":[{"mark":{"type":"area","fillOpacity":0.22,"strokeOpacity":0.14,"strokeWidth":2},"encoding":{"y2":{"field":"py0"}}},{"mark":{"type":"line","strokeWidth":6,"opacity":0.2}},{"mark":{"type":"point","filled":true,"opacity":1,"strokeWidth":0},"encoding":{"size":{"field":"ms","type":"quantitative","scale":null},"shape":{"condition":{"test":"datum.year===2010","value":"M0,-1A1,1 0 0 1 0,1Z"},"value":"circle"}}}]},
{"transform":[{"filter":"datum.k===25"}],"layer":[{"mark":{"type":"area","fillOpacity":0.22,"strokeOpacity":0.14,"strokeWidth":2},"encoding":{"y2":{"field":"py0"}}},{"mark":{"type":"line","strokeWidth":6,"opacity":0.2}},{"mark":{"type":"point","filled":true,"opacity":1,"strokeWidth":0},"encoding":{"size":{"field":"ms","type":"quantitative","scale":null},"shape":{"condition":{"test":"datum.year===2010","value":"M0,-1A1,1 0 0 1 0,1Z"},"value":"circle"}}}]},
{"transform":[{"filter":"datum.k===24"}],"layer":[{"mark":{"type":"area","fillOpacity":0.22,"strokeOpacity":0.14,"strokeWidth":2},"encoding":{"y2":{"field":"py0"}}},{"mark":{"type":"line","strokeWidth":6,"opacity":0.2}},{"mark":{"type":"point","filled":true,"opacity":1,"strokeWidth":0},"encoding":{"size":{"field":"ms","type":"quantitative","scale":null},"shape":{"condition":{"test":"datum.year===2010","value":"M0,-1A1,1 0 0 1 0,1Z"},"value":"circle"}}}]},
{"transform":[{"filter":"datum.k===23"}],"layer":[{"mark":{"type":"area","fillOpacity":0.22,"strokeOpacity":0.14,"strokeWidth":2},"encoding":{"y2":{"field":"py0"}}},{"mark":{"type":"line","strokeWidth":6,"opacity":0.2}},{"mark":{"type":"point","filled":true,"opacity":1,"strokeWidth":0},"encoding":{"size":{"field":"ms","type":"quantitative","scale":null},"shape":{"condition":{"test":"datum.year===2010","value":"M0,-1A1,1 0 0 1 0,1Z"},"value":"circle"}}}]},
{"transform":[{"filter":"datum.k===22"}],"layer":[{"mark":{"type":"area","fillOpacity":0.22,"strokeOpacity":0.14,"strokeWidth":2},"encoding":{"y2":{"field":"py0"}}},{"mark":{"type":"line","strokeWidth":6,"opacity":0.2}},{"mark":{"type":"point","filled":true,"opacity":1,"strokeWidth":0},"encoding":{"size":{"field":"ms","type":"quantitative","scale":null},"shape":{"condition":{"test":"datum.year===2010","value":"M0,-1A1,1 0 0 1 0,1Z"},"value":"circle"}}}]},
{"transform":[{"filter":"datum.k===21"}],"layer":[{"mark":{"type":"area","fillOpacity":0.22,"strokeOpacity":0.14,"strokeWidth":2},"encoding":{"y2":{"field":"py0"}}},{"mark":{"type":"line","strokeWidth":6,"opacity":0.2}},{"mark":{"type":"point","filled":true,"opacity":1,"strokeWidth":0},"encoding":{"size":{"field":"ms","type":"quantitative","scale":null},"shape":{"condition":{"test":"datum.year===2010","value":"M0,-1A1,1 0 0 1 0,1Z"},"value":"circle"}}}]},
{"transform":[{"filter":"datum.k===20"}],"layer":[{"mark":{"type":"area","fillOpacity":0.22,"strokeOpacity":0.14,"strokeWidth":2},"encoding":{"y2":{"field":"py0"}}},{"mark":{"type":"line","strokeWidth":6,"opacity":0.2}},{"mark":{"type":"point","filled":true,"opacity":1,"strokeWidth":0},"encoding":{"size":{"field":"ms","type":"quantitative","scale":null},"shape":{"condition":{"test":"datum.year===2010","value":"M0,-1A1,1 0 0 1 0,1Z"},"value":"circle"}}}]},
{"transform":[{"filter":"datum.k===19"}],"layer":[{"mark":{"type":"area","fillOpacity":0.22,"strokeOpacity":0.14,"strokeWidth":2},"encoding":{"y2":{"field":"py0"}}},{"mark":{"type":"line","strokeWidth":6,"opacity":0.2}},{"mark":{"type":"point","filled":true,"opacity":1,"strokeWidth":0},"encoding":{"size":{"field":"ms","type":"quantitative","scale":null},"shape":{"condition":{"test":"datum.year===2010","value":"M0,-1A1,1 0 0 1 0,1Z"},"value":"circle"}}}]},
{"transform":[{"filter":"datum.k===18"}],"layer":[{"mark":{"type":"area","fillOpacity":0.22,"strokeOpacity":0.14,"strokeWidth":2},"encoding":{"y2":{"field":"py0"}}},{"mark":{"type":"line","strokeWidth":6,"opacity":0.2}},{"mark":{"type":"point","filled":true,"opacity":1,"strokeWidth":0},"encoding":{"size":{"field":"ms","type":"quantitative","scale":null},"shape":{"condition":{"test":"datum.year===2010","value":"M0,-1A1,1 0 0 1 0,1Z"},"value":"circle"}}}]},
{"transform":[{"filter":"datum.k===17"}],"layer":[{"mark":{"type":"area","fillOpacity":0.22,"strokeOpacity":0.14,"strokeWidth":2},"encoding":{"y2":{"field":"py0"}}},{"mark":{"type":"line","strokeWidth":6,"opacity":0.2}},{"mark":{"type":"point","filled":true,"opacity":1,"strokeWidth":0},"encoding":{"size":{"field":"ms","type":"quantitative","scale":null},"shape":{"condition":{"test":"datum.year===2010","value":"M0,-1A1,1 0 0 1 0,1Z"},"value":"circle"}}}]},
{"transform":[{"filter":"datum.k===16"}],"layer":[{"mark":{"type":"area","fillOpacity":0.22,"strokeOpacity":0.14,"strokeWidth":2},"encoding":{"y2":{"field":"py0"}}},{"mark":{"type":"line","strokeWidth":6,"opacity":0.2}},{"mark":{"type":"point","filled":true,"opacity":1,"strokeWidth":0},"encoding":{"size":{"field":"ms","type":"quantitative","scale":null},"shape":{"condition":{"test":"datum.year===2010","value":"M0,-1A1,1 0 0 1 0,1Z"},"value":"circle"}}}]},
{"transform":[{"filter":"datum.k===15"}],"layer":[{"mark":{"type":"area","fillOpacity":0.22,"strokeOpacity":0.14,"strokeWidth":2},"encoding":{"y2":{"field":"py0"}}},{"mark":{"type":"line","strokeWidth":6,"opacity":0.2}},{"mark":{"type":"point","filled":true,"opacity":1,"strokeWidth":0},"encoding":{"size":{"field":"ms","type":"quantitative","scale":null},"shape":{"condition":{"test":"datum.year===2010","value":"M0,-1A1,1 0 0 1 0,1Z"},"value":"circle"}}}]},
{"transform":[{"filter":"datum.k===14"}],"layer":[{"mark":{"type":"area","fillOpacity":0.22,"strokeOpacity":0.14,"strokeWidth":2},"encoding":{"y2":{"field":"py0"}}},{"mark":{"type":"line","strokeWidth":6,"opacity":0.2}},{"mark":{"type":"point","filled":true,"opacity":1,"strokeWidth":0},"encoding":{"size":{"field":"ms","type":"quantitative","scale":null},"shape":{"condition":{"test":"datum.year===2010","value":"M0,-1A1,1 0 0 1 0,1Z"},"value":"circle"}}}]},
{"transform":[{"filter":"datum.k===13"}],"layer":[{"mark":{"type":"area","fillOpacity":0.22,"strokeOpacity":0.14,"strokeWidth":2},"encoding":{"y2":{"field":"py0"}}},{"mark":{"type":"line","strokeWidth":6,"opacity":0.2}},{"mark":{"type":"point","filled":true,"opacity":1,"strokeWidth":0},"encoding":{"size":{"field":"ms","type":"quantitative","scale":null},"shape":{"condition":{"test":"datum.year===2010","value":"M0,-1A1,1 0 0 1 0,1Z"},"value":"circle"}}}]},
{"transform":[{"filter":"datum.k===12"}],"layer":[{"mark":{"type":"area","fillOpacity":0.22,"strokeOpacity":0.14,"strokeWidth":2},"encoding":{"y2":{"field":"py0"}}},{"mark":{"type":"line","strokeWidth":6,"opacity":0.2}},{"mark":{"type":"point","filled":true,"opacity":1,"strokeWidth":0},"encoding":{"size":{"field":"ms","type":"quantitative","scale":null},"shape":{"condition":{"test":"datum.year===2010","value":"M0,-1A1,1 0 0 1 0,1Z"},"value":"circle"}}}]},
{"transform":[{"filter":"datum.k===11"}],"layer":[{"mark":{"type":"area","fillOpacity":0.22,"strokeOpacity":0.14,"strokeWidth":2},"encoding":{"y2":{"field":"py0"}}},{"mark":{"type":"line","strokeWidth":6,"opacity":0.2}},{"mark":{"type":"point","filled":true,"opacity":1,"strokeWidth":0},"encoding":{"size":{"field":"ms","type":"quantitative","scale":null},"shape":{"condition":{"test":"datum.year===2010","value":"M0,-1A1,1 0 0 1 0,1Z"},"value":"circle"}}}]},
{"transform":[{"filter":"datum.k===10"}],"layer":[{"mark":{"type":"area","fillOpacity":0.22,"strokeOpacity":0.14,"strokeWidth":2},"encoding":{"y2":{"field":"py0"}}},{"mark":{"type":"line","strokeWidth":6,"opacity":0.2}},{"mark":{"type":"point","filled":true,"opacity":1,"strokeWidth":0},"encoding":{"size":{"field":"ms","type":"quantitative","scale":null},"shape":{"condition":{"test":"datum.year===2010","value":"M0,-1A1,1 0 0 1 0,1Z"},"value":"circle"}}}]},
{"transform":[{"filter":"datum.k===9"}],"layer":[{"mark":{"type":"area","fillOpacity":0.22,"strokeOpacity":0.14,"strokeWidth":2},"encoding":{"y2":{"field":"py0"}}},{"mark":{"type":"line","strokeWidth":6,"opacity":0.2}},{"mark":{"type":"point","filled":true,"opacity":1,"strokeWidth":0},"encoding":{"size":{"field":"ms","type":"quantitative","scale":null},"shape":{"condition":{"test":"datum.year===2010","value":"M0,-1A1,1 0 0 1 0,1Z"},"value":"circle"}}}]},
{"transform":[{"filter":"datum.k===8"}],"layer":[{"mark":{"type":"area","fillOpacity":0.22,"strokeOpacity":0.14,"strokeWidth":2},"encoding":{"y2":{"field":"py0"}}},{"mark":{"type":"line","strokeWidth":6,"opacity":0.2}},{"mark":{"type":"point","filled":true,"opacity":1,"strokeWidth":0},"encoding":{"size":{"field":"ms","type":"quantitative","scale":null},"shape":{"condition":{"test":"datum.year===2010","value":"M0,-1A1,1 0 0 1 0,1Z"},"value":"circle"}}}]},
{"transform":[{"filter":"datum.k===7"}],"layer":[{"mark":{"type":"area","fillOpacity":0.22,"strokeOpacity":0.14,"strokeWidth":2},"encoding":{"y2":{"field":"py0"}}},{"mark":{"type":"line","strokeWidth":6,"opacity":0.2}},{"mark":{"type":"point","filled":true,"opacity":1,"strokeWidth":0},"encoding":{"size":{"field":"ms","type":"quantitative","scale":null},"shape":{"condition":{"test":"datum.year===2010","value":"M0,-1A1,1 0 0 1 0,1Z"},"value":"circle"}}}]},
{"transform":[{"filter":"datum.k===6"}],"layer":[{"mark":{"type":"area","fillOpacity":0.22,"strokeOpacity":0.14,"strokeWidth":2},"encoding":{"y2":{"field":"py0"}}},{"mark":{"type":"line","strokeWidth":6,"opacity":0.2}},{"mark":{"type":"point","filled":true,"opacity":1,"strokeWidth":0},"encoding":{"size":{"field":"ms","type":"quantitative","scale":null},"shape":{"condition":{"test":"datum.year===2010","value":"M0,-1A1,1 0 0 1 0,1Z"},"value":"circle"}}}]},
{"transform":[{"filter":"datum.k===5"}],"layer":[{"mark":{"type":"area","fillOpacity":0.22,"strokeOpacity":0.14,"strokeWidth":2},"encoding":{"y2":{"field":"py0"}}},{"mark":{"type":"line","strokeWidth":6,"opacity":0.2}},{"mark":{"type":"point","filled":true,"opacity":1,"strokeWidth":0},"encoding":{"size":{"field":"ms","type":"quantitative","scale":null},"shape":{"condition":{"test":"datum.year===2010","value":"M0,-1A1,1 0 0 1 0,1Z"},"value":"circle"}}}]},
{"transform":[{"filter":"datum.k===4"}],"layer":[{"mark":{"type":"area","fillOpacity":0.22,"strokeOpacity":0.14,"strokeWidth":2},"encoding":{"y2":{"field":"py0"}}},{"mark":{"type":"line","strokeWidth":6,"opacity":0.2}},{"mark":{"type":"point","filled":true,"opacity":1,"strokeWidth":0},"encoding":{"size":{"field":"ms","type":"quantitative","scale":null},"shape":{"condition":{"test":"datum.year===2010","value":"M0,-1A1,1 0 0 1 0,1Z"},"value":"circle"}}}]},
{"transform":[{"filter":"datum.k===3"}],"layer":[{"mark":{"type":"area","fillOpacity":0.22,"strokeOpacity":0.14,"strokeWidth":2},"encoding":{"y2":{"field":"py0"}}},{"mark":{"type":"line","strokeWidth":6,"opacity":0.2}},{"mark":{"type":"point","filled":true,"opacity":1,"strokeWidth":0},"encoding":{"size":{"field":"ms","type":"quantitative","scale":null},"shape":{"condition":{"test":"datum.year===2010","value":"M0,-1A1,1 0 0 1 0,1Z"},"value":"circle"}}}]},
{"transform":[{"filter":"datum.k===2"}],"layer":[{"mark":{"type":"area","fillOpacity":0.22,"strokeOpacity":0.14,"strokeWidth":2},"encoding":{"y2":{"field":"py0"}}},{"mark":{"type":"line","strokeWidth":6,"opacity":0.2}},{"mark":{"type":"point","filled":true,"opacity":1,"strokeWidth":0},"encoding":{"size":{"field":"ms","type":"quantitative","scale":null},"shape":{"condition":{"test":"datum.year===2010","value":"M0,-1A1,1 0 0 1 0,1Z"},"value":"circle"}}}]},
{"transform":[{"filter":"datum.k===1"}],"layer":[{"mark":{"type":"area","fillOpacity":0.22,"strokeOpacity":0.14,"strokeWidth":2},"encoding":{"y2":{"field":"py0"}}},{"mark":{"type":"line","strokeWidth":6,"opacity":0.2}},{"mark":{"type":"point","filled":true,"opacity":1,"strokeWidth":0},"encoding":{"size":{"field":"ms","type":"quantitative","scale":null},"shape":{"condition":{"test":"datum.year===2010","value":"M0,-1A1,1 0 0 1 0,1Z"},"value":"circle"}}}]},
{"transform":[{"filter":"datum.k===0"}],"layer":[{"mark":{"type":"area","fillOpacity":0.22,"strokeOpacity":0.14,"strokeWidth":2},"encoding":{"y2":{"field":"py0"}}},{"mark":{"type":"line","strokeWidth":6,"opacity":0.2}},{"mark":{"type":"point","filled":true,"opacity":1,"strokeWidth":0},"encoding":{"size":{"field":"ms","type":"quantitative","scale":null},"shape":{"condition":{"test":"datum.year===2010","value":"M0,-1A1,1 0 0 1 0,1Z"},"value":"circle"}}}]}
]},
{"data":{"name":"yearTicks"},"transform":[{"filter":"datum.year===2022"},{"calculate":"2028.01+(datum.year-2028.01)*0.5688","as":"xb"},{"calculate":"12.755*(1-0.5688)","as":"y0b"},{"calculate":"0","as":"y0f"}],"mark":{"type":"rule","color":"#000","strokeWidth":4.5},"encoding":{"x":{"field":"year","type":"quantitative"},"y":{"field":"y0f","type":"quantitative"},"x2":{"field":"xb"},"y2":{"field":"y0b"}}},
{"data":{"name":"provinces"},"transform":[{"calculate":"1/(1+0.02614*(datum.k+0.5))","as":"s"},{"calculate":"1/(1+0.02614*datum.k)","as":"sm"},{"calculate":"2028.01+(2022-2028.01)*datum.s","as":"xa"},{"calculate":"2028.01+(2022.14-2028.01)*datum.s","as":"xt"},{"calculate":"2028.01+(2022.25-2028.01)*datum.s","as":"xlab"},{"calculate":"12.755*(1-datum.s)","as":"y0"},{"calculate":"2028.01+(2022-2028.01)*datum.sm","as":"xma"},{"calculate":"2028.01+(2022.075-2028.01)*datum.sm","as":"xmt"},{"calculate":"12.755*(1-datum.sm)","as":"y0m"},{"calculate":"51*datum.s","as":"fs"}],
"layer":[
{"mark":{"type":"rule","color":"#000","strokeWidth":3.5},"encoding":{"x":{"field":"xa","type":"quantitative"},"x2":{"field":"xt"},"y":{"field":"y0","type":"quantitative"}}},
{"mark":{"type":"rule","color":"#000","strokeWidth":3},"encoding":{"x":{"field":"xma","type":"quantitative"},"x2":{"field":"xmt"},"y":{"field":"y0m","type":"quantitative"}}},
{"mark":{"type":"text","align":"left","baseline":"middle","color":"#000","font":"Liberation Serif"},"encoding":{"x":{"field":"xlab","type":"quantitative"},"y":{"field":"y0","type":"quantitative"},"text":{"field":"province"},"size":{"field":"fs","type":"quantitative","scale":null}}}
]},
{"data":{"name":"depthEnds"},"transform":[{"filter":"datum.d===1"},{"calculate":"1/(1+0.758*datum.d)","as":"s"},{"calculate":"2028.01+(2022-2028.01)*datum.s","as":"xma"},{"calculate":"2028.01+(2022.075-2028.01)*datum.s","as":"xmt"},{"calculate":"12.755*(1-datum.s)","as":"y0m"}],"mark":{"type":"rule","color":"#000","strokeWidth":3},"encoding":{"x":{"field":"xma","type":"quantitative"},"x2":{"field":"xmt"},"y":{"field":"y0m","type":"quantitative"}}},
{"data":{"values":[{"label":"Province","year":2025.55,"value":3.5}]},"mark":{"type":"text","angle":270,"align":"center","baseline":"middle","fontSize":52,"color":"#000","font":"Liberation Serif"},"encoding":{"x":{"field":"year","type":"quantitative"},"y":{"field":"value","type":"quantitative"},"text":{"field":"label"}}}
]}
